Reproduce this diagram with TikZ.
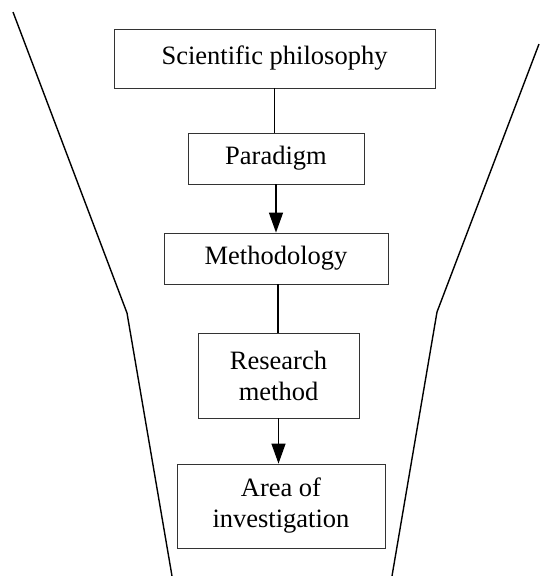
\documentclass[tikz,border=0pt]{standalone}
\usepackage{fontspec}
\setmainfont{Liberation Serif}
\usetikzlibrary{arrows.meta}
\begin{document}
\begin{tikzpicture}[x=1pt,y=-1pt,
  stagebox/.style={draw=black!80,line width=0.8pt,rectangle,inner sep=0pt,
    align=center,font=\fontsize{26.5}{31}\selectfont},
  link/.style={line width=1.3pt},
  flow/.style={link,-{Triangle[length=20pt,width=14pt]}},
  funnel/.style={line width=1.4pt,line join=miter}]
\useasboundingbox (0,0) rectangle (539,576);

% funnel outline
\draw[funnel] (13,12) -- (127,313) -- (172,576);
\draw[funnel] (539,44) -- (437,312) -- (392,576);

% stages
\node[stagebox,minimum width=321pt,minimum height=59pt] (sci)  at (274.5,58.5) {Scientific philosophy};
\node[stagebox,minimum width=176pt,minimum height=51pt] (par)  at (276,158.5) {Paradigm};
\node[stagebox,minimum width=224pt,minimum height=51pt] (meth) at (276,258.5) {Methodology};
\node[stagebox,minimum width=161pt,minimum height=85pt] (res)  at (278.5,375.5) {Research\\method};
\node[stagebox,minimum width=208pt,minimum height=84pt] (area) at (281,506) {Area of\\investigation};

% connectors
\draw[link] (sci.south) -- (sci.south |- par.north);
\draw[flow] (par.south) -- (par.south |- meth.north);
\draw[link] ([xshift=2pt]meth.south) -- ([xshift=2pt]meth.south |- res.north);
\draw[flow] (res.south) -- (res.south |- area.north);
\end{tikzpicture}
\end{document}
